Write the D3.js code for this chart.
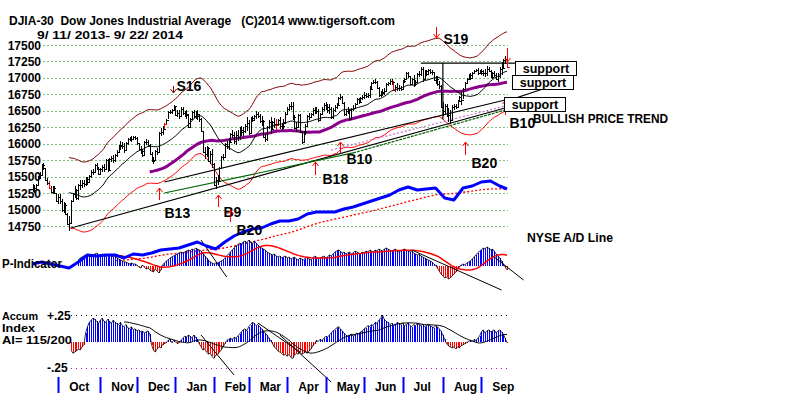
<!DOCTYPE html>
<html><head><meta charset="utf-8">
<script src="https://cdn.jsdelivr.net/npm/d3@7/dist/d3.min.js"></script>
<style>
body{margin:0;background:#fff}
svg{display:block}
text{font-family:"Liberation Sans",Arial,sans-serif;font-weight:bold;fill:#000}
</style></head><body>
<svg id="c" width="800" height="397"></svg>
<script>
// ---------- DATA ----------
const closeSep13=[15326,15300,15376,15494,15529,15676,15636,15451,15401,15334,15273,15328,15258,15129];
const closeOct13=[15192,15133,14996,15073,14936,14776,14803,15126,15237,15301,15168,15373,15372,15399,15392,15467,15413,15509,15570,15568,15680,15618,15546];
const closeNov13=[15615,15639,15619,15747,15594,15762,15784,15751,15822,15876,15962,15976,15968,15901,16010,16065,16073,16073,16097,16086];
const closeDec13=[16008,15915,15889,15822,16020,16025,15974,15844,15740,15755,15885,15875,16168,16179,16221,16295,16358,16479,16479,16505,16577];
const closeJan14=[16441,16470,16426,16531,16462,16445,16437,16258,16374,16482,16418,16459,16415,16374,16198,15880,15838,15929,15739,15848,15699];
const closeFeb14=[15373,15445,15441,15628,15794,15802,15994,15964,16027,16154,16130,16041,16134,16104,16208,16180,16198,16272,16322];
const closeMar14=[16168,16396,16361,16422,16453,16419,16351,16341,16109,16066,16247,16337,16223,16331,16303,16277,16368,16268,16264,16323,16458];
const closeApr14=[16533,16573,16572,16413,16246,16257,16438,16171,16027,16174,16263,16425,16409,16449,16515,16502,16501,16361,16448,16535,16581];
const closeMay14=[16559,16513,16531,16402,16518,16551,16584,16696,16716,16614,16447,16492,16512,16374,16533,16543,16606,16676,16633,16698,16717];
const closeJun14=[16743,16722,16737,16836,16924,16943,16945,16843,16734,16776,16781,16808,16906,16921,16947,16937,16819,16868,16846,16851,16827];
const closeJul14=[16956,16976,17068,17024,16906,16985,16915,16944,17055,17061,17138,16977,17100,17052,17114,17087,17083,16961,16983,16913,16881,16563];
const closeAug14=[16493,16569,16430,16443,16368,16554,16570,16561,16651,16713,16663,16839,16919,16979,17040,17001,17077,17107,17123,17080,17098];
const closeSep14=[17068,17079,17070,17138,17112,17014,17068,17049,16988,17031,17132,17157,17266,17280,17172];

const rangeSep13=[110,120,95,160,105,190,100,170,110,120,105,115,125,130];
const rangeOct13=[150,160,190,170,175,190,220,330,140,180,170,240,150,130,100,140,120,110,130,90,120,110,120];
const rangeNov13=[100,110,120,140,190,170,90,110,120,100,120,130,110,140,120,100,70,80,70,60];
const rangeDec13=[120,110,130,120,190,90,110,170,150,110,170,110,310,120,130,90,80,100,60,80,90];
const rangeJan14=[140,110,140,160,110,100,130,220,150,110,110,120,150,120,220,320,180,170,230,190,280];
const rangeFeb14=[340,180,150,210,190,100,190,110,190,130,120,190,200,170,190,150,140,130,220];
const rangeMar14=[230,240,100,90,110,100,140,150,260,130,220,130,250,150,160,160,120,180,100,150,170];
const rangeApr14=[110,100,110,270,200,150,200,280,200,180,160,160,110,90,110,100,110,190,130,120,120];
const rangeMay14=[130,130,150,170,160,120,90,140,90,130,220,100,110,180,150,90,80,90,90,80,80];
const rangeJun14=[100,80,80,190,110,60,70,110,160,90,110,100,140,60,90,90,150,100,120,90,80];
const rangeJul14=[130,80,110,80,130,100,180,90,110,90,130,230,150,100,80,70,80,120,120,150,120,330];
const rangeAug14=[210,160,200,200,220,240,90,80,110,100,200,150,90,70,80,100,80,60,50,110,60];
const rangeSep14=[90,80,130,140,80,100,110,100,100,130,160,190,150,120,120];

const priceTicks=[17500,17250,17000,16750,16500,16250,16000,15750,15500,15250,15000,14750];
const monthLabels=["Oct","Nov","Dec","Jan","Feb","Mar","Apr","May","Jun","Jul","Aug","Sep"];
const monthStartDay=[14,37,57,78,99,118,139,160,181,202,224,245];
const redBarDays=[9,72,133,197,259];

// NYSE A/D line, weekly samples (arbitrary units)
const adDays=d3.range(0,256,5).concat([259]);
const adValues=[6,8,6,4,2,8,15,14,15,15,12,16,15,17,20,21,22,25,28,24,21,28,34,38,41,42,46,49,49,51,56,58,58,58,61,63,66,69,72,75,80,83,80,81,82,72,70,82,84,88,89,84,81];

// P-Indicator (daily, from day 25)
const pStartDay=25;
const pValues=[6,8,9,10,11,12,10,9,11,12,13,11,10,12,11,9,
11,12,10,9,10,8,7,6,5,4,
4,3,2,3,2,
2,1,-1,-2,1,-1,-3,-2,
-4,-5,-6,-3,-5,-7,-4,
1,3,5,6,8,9,10,
11,12,13,14,13,14,15,16,15,17,16,18,17,16,15,
13,10,8,6,4,3,2,3,
3,4,5,6,8,10,12,14,16,18,
20,21,23,22,24,25,23,26,24,22,25,23,21,19,18,
17,16,14,13,12,11,12,10,9,10,8,9,10,8,9,7,8,9,7,6,8,
7,6,8,9,7,6,8,10,9,7,8,9,10,8,9,11,10,
12,14,15,16,15,13,14,12,13,14,12,13,15,14,13,12,14,
13,15,14,16,15,14,16,15,17,16,15,17,18,17,16,15,16,17,15,14,
15,16,17,16,15,14,15,13,12,11,12,10,9,8,7,
6,5,4,2,1,-2,-5,-8,-10,
-12,-11,-13,-12,-10,-8,-6,-3,
-1,1,2,1,3,4,5,7,
9,11,13,15,16,18,17,19,18,16,17,15,
12,10,8,5,2,-1,-4];

// Accumulation Index (daily, from day 21)
const aiStartDay=21;
const aiValues=[-0.08,-0.11,-0.10,-0.09,-0.07,-0.08,-0.05,-0.03,
0.08,0.14,0.18,0.20,0.22,0.21,0.19,
0.17,0.20,0.22,0.19,0.18,0.21,0.19,0.17,0.20,0.18,
0.17,0.16,0.18,0.15,0.14,0.16,0.13,0.12,0.14,0.11,
0.12,0.10,0.11,0.09,0.10,0.08,0.09,0.10,0.07,
-0.03,-0.08,-0.10,-0.07,-0.05,-0.06,-0.03,
-0.02,-0.01,0.01,0.02,-0.01,0.01,0.00,-0.02,-0.01,
0.01,0.03,0.05,0.04,0.06,0.05,0.03,0.06,0.04,0.02,
-0.02,-0.05,-0.08,-0.07,-0.10,-0.12,-0.11,-0.14,-0.16,-0.13,-0.12,-0.10,-0.08,-0.05,
-0.02,0.01,0.02,0.03,0.02,0.04,0.03,0.05,
0.07,0.09,0.11,0.12,0.10,0.14,0.16,0.18,0.17,0.15,0.16,0.14,0.12,
0.10,0.08,0.06,0.03,0.01,-0.02,-0.05,-0.07,-0.09,-0.10,
-0.11,-0.13,-0.12,-0.14,-0.12,-0.15,-0.16,-0.13,-0.11,-0.12,-0.10,
-0.12,-0.11,-0.10,-0.11,-0.09,-0.07,-0.04,-0.02,0.01,
0.00,0.02,0.01,0.03,0.05,0.04,
0.06,0.08,0.10,0.11,0.13,0.14,0.12,0.10,0.08,0.06,0.05,
0.06,0.07,0.05,0.06,0.08,0.07,0.09,0.10,0.12,0.13,
0.15,0.14,0.16,0.15,0.18,0.17,0.20,0.22,0.25,0.21,0.19,0.18,0.16,0.17,0.15,0.16,0.18,0.17,
0.16,0.17,0.15,0.16,0.17,0.15,0.14,0.16,0.15,0.17,0.16,0.15,0.16,0.14,0.15,0.16,0.15,0.14,0.13,0.15,0.14,0.12,0.10,0.06,0.02,
-0.02,-0.04,-0.05,-0.06,-0.05,-0.07,-0.05,-0.06,-0.04,-0.03,-0.02,
-0.01,0.00,0.01,0.00,0.02,0.01,0.03,0.05,
0.09,0.11,0.08,0.10,0.11,0.09,0.10,0.11,0.08,0.10,0.11,0.09,0.07,0.03,-0.01];

// trend lines [day, price]
const priceTrendLines=[
  {from:[21,14719],to:[258,16543],color:"#000",dash:null},
  {from:[72,15418],to:[258,16664],color:"#000",dash:null},
  {from:[258,16640],to:[290,16937],color:"#000",dash:null},
  {from:[72,15251],to:[175,15860],color:"#006400",dash:null},
  {from:[175,15860],to:[258,16512],color:"#006400",dash:"3,1"},
  {from:[163,15904],to:[258,16573],color:"#d070d0",dash:"2,2"},
  {from:[212,17226],to:[264,17226],color:"#000",dash:null},
  {from:[224,17226],to:[224,16370],color:"#000",dash:null}
];
const pTrendLines=[{from:[92,26],to:[106,-11]},{from:[207,16],to:[256,-24]},{from:[252,9],to:[268,-14]}];
const aiTrendLines=[{from:[92,0.061],to:[110,-0.316]},{from:[123,0.175],to:[146,-0.099]},{from:[135,0.061],to:[163,-0.382]}];

// signals [day, tip price, tail price]
const signals=[
  {name:"B13",day:69,tip:15326,tail:15144},
  {name:"B9",day:101,tip:15220,tail:15038},
  {name:"B20",day:108,tip:14992,tail:14810},
  {name:"B18",day:154,tip:15722,tail:15524},
  {name:"B10",day:168,tip:16026,tail:15859},
  {name:"B20",day:236,tip:16026,tail:15829},
  {name:"B10",day:258,tip:16664,tail:16436},
  {name:"S19",day:220,tip:17606,tail:17773},
  {name:"S16",day:76.5,tip:16771,tail:16877},
  {name:"",day:259,tip:17242,tail:17454}
];
const supportLevels=[17150,16935,16600];

// ---------- BUILD ----------
const close=[].concat(closeSep13,closeOct13,closeNov13,closeDec13,closeJan14,closeFeb14,closeMar14,closeApr14,closeMay14,closeJun14,closeJul14,closeAug14,closeSep14);
const range=[].concat(rangeSep13,rangeOct13,rangeNov13,rangeDec13,rangeJan14,rangeFeb14,rangeMar14,rangeApr14,rangeMay14,rangeJun14,rangeJul14,rangeAug14,rangeSep14);
const bars=close.map((c,i)=>{const p=i>0?close[i-1]:c;const m=(c+p)/2;const r=range[i];
  return {i,c,hi:Math.max(m+r/2,c+15),lo:Math.min(m-r/2,c-15)};});

function movingAvg(vals,n,start){const out=[];for(let k=n-1;k<vals.length;k++){let s=0;for(let j=k-n+1;j<=k;j++)s+=vals[j];out.push({i:start+k,v:s/n});}return out;}

const svg=d3.select("#c");
const x=d3.scaleLinear().domain([0,259]).range([32.5,507]);
const yP=d3.scaleLinear().domain([14750,17500]).range([226,45]);
const yAD=d3.scaleLinear().domain([0,100]).range([270,170]);
const yPI=d3.scaleLinear().domain([-30,40]).range([296,226]);
const yAI=d3.scaleLinear().domain([-0.25,0.25]).range([368,315]);
const px=i=>Math.round(x(i))+0.5;

// title
svg.append("text").attr("x",9).attr("y",25).attr("font-size",12.5).attr("textLength",386).attr("lengthAdjust","spacingAndGlyphs")
  .attr("xml:space","preserve").text("DJIA-30  Dow Jones Industrial Average   (C)2014 www.tigersoft.com");
svg.append("text").attr("x",37).attr("y",38.5).attr("font-size",11.5).attr("textLength",146).attr("lengthAdjust","spacingAndGlyphs")
  .attr("xml:space","preserve").text("9/ 11/ 2013- 9/ 22/ 2014");

// grid + y labels
const grid=svg.append("g");
priceTicks.forEach(t=>{
  const yy=Math.round(yP(t))+0.5;
  grid.append("line").attr("x1",x(6)).attr("x2",x(259)+1).attr("y1",yy).attr("y2",yy)
    .attr("stroke","#008000").attr("stroke-dasharray","1,3");
  grid.append("text").attr("x",41).attr("y",yP(t)+4.5).attr("text-anchor","end").attr("font-size",12).text(t);
});

// bands and moving averages
const ma21=movingAvg(close,21,0);
const ma65=movingAvg(close,65,0);
const ln=(fy)=>d3.line().x(d=>x(d.i)).y(d=>fy(d.v));
svg.append("path").attr("d",ln(v=>yP(v*1.035))(ma21)).attr("fill","none").attr("stroke","#800000").attr("stroke-width",1);
svg.append("path").attr("d",ln(v=>yP(v*0.965))(ma21)).attr("fill","none").attr("stroke","#ff0000").attr("stroke-width",1);

// trend lines
priceTrendLines.forEach(l=>{
  svg.append("line").attr("x1",x(l.from[0])).attr("y1",yP(l.from[1])).attr("x2",x(l.to[0])).attr("y2",yP(l.to[1]))
   .attr("stroke",l.color).attr("stroke-width",1.2).attr("stroke-dasharray",l.dash);
});

svg.append("path").attr("d",ln(yP)(ma65)).attr("fill","none").attr("stroke","#8b008b").attr("stroke-width",3);

// price bars
const bg=svg.append("g").attr("shape-rendering","crispEdges");
bg.selectAll("line.hl").data(bars).join("line").attr("class","hl")
  .attr("x1",d=>px(d.i)).attr("x2",d=>px(d.i)).attr("y1",d=>yP(d.hi)).attr("y2",d=>yP(d.lo))
  .attr("stroke",d=>redBarDays.includes(d.i)?"#ff0000":"#000");
bg.selectAll("line.cl").data(bars).join("line").attr("class","cl")
  .attr("x1",d=>px(d.i)).attr("x2",d=>px(d.i)+2).attr("y1",d=>Math.round(yP(d.c))+0.5).attr("y2",d=>Math.round(yP(d.c))+0.5)
  .attr("stroke",d=>redBarDays.includes(d.i)?"#ff0000":"#000");

svg.append("path").attr("d",ln(yP)(ma21)).attr("fill","none").attr("stroke","#000").attr("stroke-width",1);

// A/D line moving average
const adPts=adDays.map((d,k)=>({i:d,v:adValues[k]}));
const adMa=movingAvg(adValues,10,0).map(o=>({i:adDays[o.i],v:o.v}));
svg.append("path").attr("d",ln(yAD)(adMa)).attr("fill","none").attr("stroke","#ff0000").attr("stroke-width",1.3).attr("stroke-dasharray","2,2");

// P-Indicator
const pg=svg.append("g").attr("shape-rendering","crispEdges");
const pPts=pValues.map((v,k)=>({i:pStartDay+k,v}));
pg.selectAll("line").data(pPts).join("line")
  .attr("x1",d=>px(d.i)).attr("x2",d=>px(d.i)).attr("y1",yPI(0)).attr("y2",d=>yPI(d.v))
  .attr("stroke",d=>d.v>=0?"#0000ff":"#ff0000");
svg.append("path").attr("d",ln(yPI)(pPts)).attr("fill","none").attr("stroke","#000").attr("stroke-width",0.8);
svg.append("path").attr("d",ln(yPI)(movingAvg(pValues,21,pStartDay))).attr("fill","none").attr("stroke","#ff0000").attr("stroke-width",1.5);
pTrendLines.forEach(l=>svg.append("line").attr("x1",x(l.from[0])).attr("y1",yPI(l.from[1])).attr("x2",x(l.to[0])).attr("y2",yPI(l.to[1])).attr("stroke","#000"));

svg.append("path").attr("d",ln(yAD)(adPts)).attr("fill","none").attr("stroke","#0000ff").attr("stroke-width",3).attr("stroke-linejoin","round");

// Accum index
svg.append("line").attr("x1",x(21)).attr("x2",x(259)+2).attr("y1",Math.round(yAI(0.25))+0.5).attr("y2",Math.round(yAI(0.25))+0.5).attr("stroke","#000").attr("stroke-dasharray","1,4");
svg.append("line").attr("x1",x(21)).attr("x2",x(259)+2).attr("y1",Math.round(yAI(-0.25))+0.5).attr("y2",Math.round(yAI(-0.25))+0.5).attr("stroke","#c000c0").attr("stroke-dasharray","1,4");
const ag=svg.append("g").attr("shape-rendering","crispEdges");
const aiPts=aiValues.map((v,k)=>({i:aiStartDay+k,v}));
ag.selectAll("line").data(aiPts).join("line")
  .attr("x1",d=>px(d.i)).attr("x2",d=>px(d.i)).attr("y1",yAI(0)).attr("y2",d=>yAI(d.v))
  .attr("stroke",d=>d.v>=0?"#0000ff":"#ff0000");
svg.append("path").attr("d",ln(yAI)(aiPts)).attr("fill","none").attr("stroke","#000").attr("stroke-width",0.8);
svg.append("path").attr("d",ln(yAI)(movingAvg(aiValues,21,aiStartDay).filter(d=>d.i>=50))).attr("fill","none").attr("stroke","#000").attr("stroke-width",1);
aiTrendLines.forEach(l=>svg.append("line").attr("x1",x(l.from[0])).attr("y1",yAI(l.from[1])).attr("x2",x(l.to[0])).attr("y2",yAI(l.to[1])).attr("stroke","#000"));

// month axis
monthStartDay.forEach((d,k)=>{
  svg.append("line").attr("x1",px(d)).attr("x2",px(d)).attr("y1",377).attr("y2",393).attr("stroke","#0000ff").attr("stroke-width",2);
  svg.append("text").attr("x",x(d)+11).attr("y",391).attr("font-size",12).text(monthLabels[k]);
});

// signal arrows
const labelOffset={"B13":[5,18],"B9":[5,10],"B20":[6,13],"B18":[7,9],"B10":[6,11],"S19":[7,6],"S16":[3,-2]};
signals.forEach((s,k)=>{
  const sx=px(s.day), ty=yP(s.tip), ly=yP(s.tail);
  const col=s.name==="S16"?"#800000":"#ff0000";
  svg.append("line").attr("x1",sx).attr("x2",sx).attr("y1",ty).attr("y2",ly).attr("stroke",col);
  const up=ly>ty?1:-1;
  svg.append("path").attr("d",`M${sx-3},${ty+4*up}L${sx},${ty}L${sx+3},${ty+4*up}`).attr("fill","none").attr("stroke",col);
  if(s.name){
    const o=labelOffset[s.name];
    const big=(k===6);
    svg.append("text").attr("x",sx+o[0]+(big?-2:0)).attr("y",(up>0?ly:ty)+o[1]+(big?1.5:0))
      .attr("font-size",14).text(s.name);
  }
});

svg.append("text").attr("x",533).attr("y",123).attr("font-size",12).attr("textLength",135).attr("lengthAdjust","spacingAndGlyphs").text("BULLISH PRICE TREND");

// support boxes
const boxX=[515,512,504];
supportLevels.forEach((lv,k)=>{
  const cy=yP(lv);
  svg.append("rect").attr("x",boxX[k]+0.5).attr("y",Math.round(cy-7)+0.5).attr("width",61).attr("height",14).attr("fill","#fff").attr("stroke","#000");
  svg.append("text").attr("x",boxX[k]+31).attr("y",cy+4.5).attr("text-anchor","middle").attr("font-size",12.5).text("support");
});

// panel labels
svg.append("text").attr("x",527).attr("y",242).attr("font-size",12).attr("textLength",86).attr("lengthAdjust","spacingAndGlyphs").text("NYSE A/D Line");
svg.append("text").attr("x",2).attr("y",268).attr("font-size",12).attr("textLength",60).attr("lengthAdjust","spacingAndGlyphs").text("P-Indicator");
svg.append("text").attr("x",2).attr("y",320).attr("font-size",11).attr("textLength",36).attr("lengthAdjust","spacingAndGlyphs").text("Accum");
svg.append("text").attr("x",2).attr("y",332).attr("font-size",11).attr("textLength",33).attr("lengthAdjust","spacingAndGlyphs").text("Index");
svg.append("text").attr("x",2).attr("y",344).attr("font-size",11).attr("textLength",70).attr("lengthAdjust","spacingAndGlyphs").text("AI= 115/200");
svg.append("text").attr("x",47).attr("y",320).attr("font-size",12).text("+.25");
svg.append("text").attr("x",47).attr("y",372).attr("font-size",12).text("-.25");
</script>
</body></html>
